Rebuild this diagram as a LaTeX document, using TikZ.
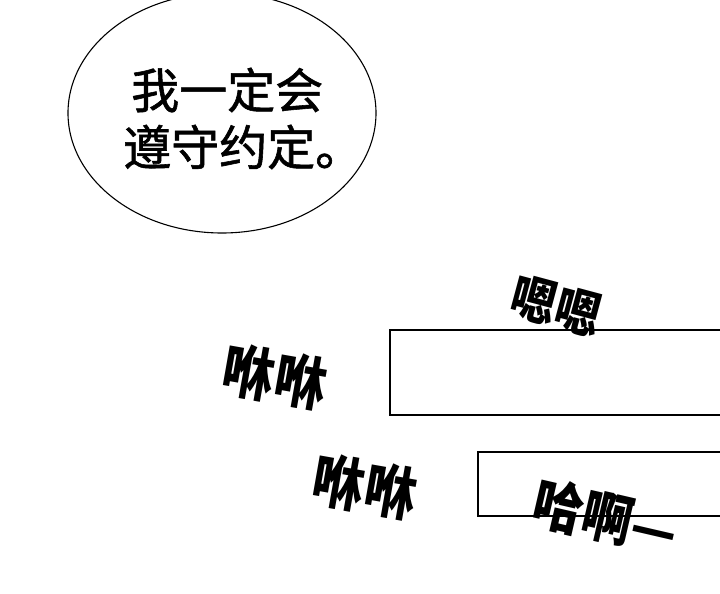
\documentclass[tikz,border=0pt]{standalone}
\usepackage{fontspec}
\newfontfamily\cjk{Noto Sans CJK SC}
\newfontfamily\cjkmed[FakeBold=1.2]{Noto Sans CJK SC}
\begin{document}
\begin{tikzpicture}[x=1pt,y=-1pt,
 panel/.style = {draw, line width=1.6pt},
 vow/.style = {inner sep=0pt, anchor=west,
      font=\cjkmed\fontsize{48pt}{48pt}\selectfont},
 sfx/.style args = {#1/#2}{%
      inner sep=0pt, rotate=#1, xscale=0.9,
      font=\cjk\bfseries\fontsize{#2}{#2}\selectfont}
                    ]
\useasboundingbox (0,0) rectangle (720,594);
\draw[line width=1.1pt] (222,113) ellipse [x radius=154, y radius=120];
\node(vowa) [vow] at (131,90)  {我一定会};
\node(vowb) [vow] at (123,147) {遵守约定。};
%
\draw[panel] (390,330) rectangle (725,415);
\draw[panel] (478,452) rectangle (725,516);
%
\node(hum)  [sfx=-15/50pt] at (556,306) {嗯嗯};
\node(wfa)  [sfx=-10/58pt] at (275,377) {咻咻};
\node(wfb)  [sfx=-10/58pt] at (365,487) {咻咻};
\node(pant) [sfx=-13/56pt] at (606,517) {哈啊—};
\end{tikzpicture}
\end{document}
